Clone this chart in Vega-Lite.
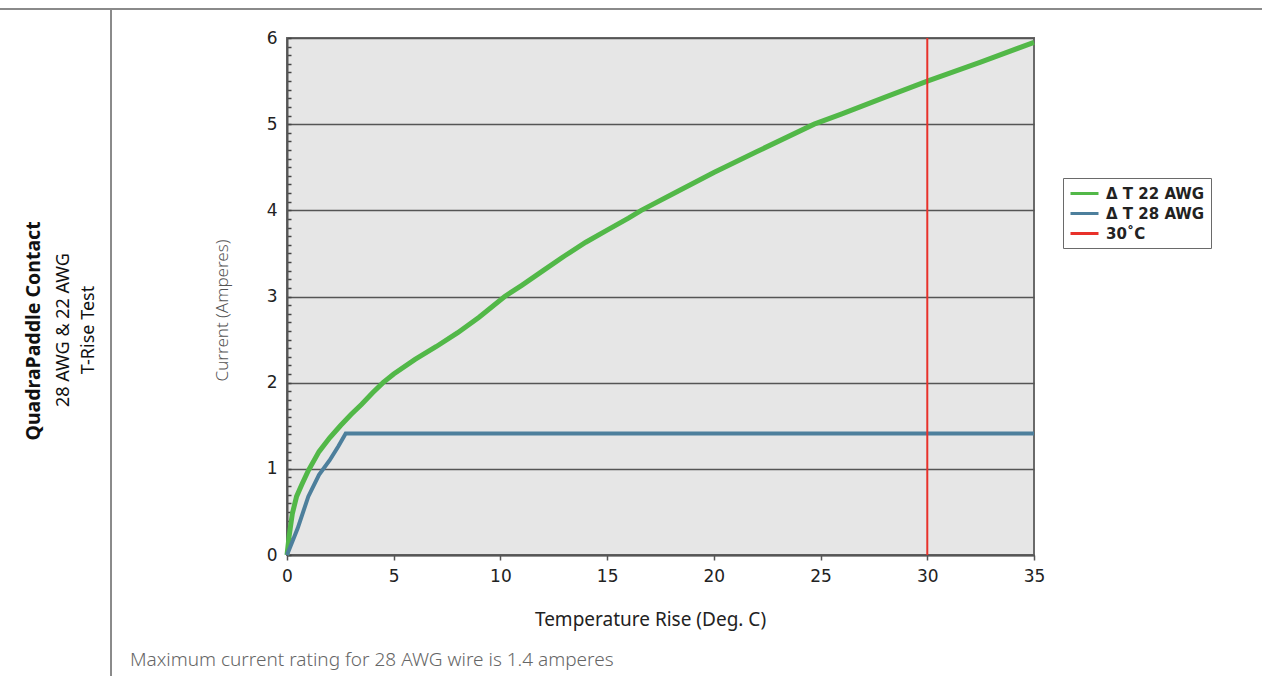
{
  "$schema": "https://vega.github.io/schema/vega-lite/v6.json",
  "autosize": {"type": "none"},
  "padding": {"left": 287, "top": 38, "right": 228, "bottom": 121},
  "width": 747,
  "height": 517,
  "background": "white",
  "config": {
    "view": {"fill": "#e6e6e6", "stroke": "#6a6a6a", "strokeWidth": 2},
    "legend": {
      "orient": "none", "legendX": 776, "legendY": 140,
      "strokeColor": "#6a6a6a", "fillColor": "white", "padding": 6,
      "symbolType": "M-1,0H2.5", "symbolSize": 256, "symbolStrokeWidth": 3,
      "labelFont": "DejaVu Sans", "labelFontWeight": "bold", "labelFontSize": 15, "labelColor": "#222",
      "rowPadding": 2, "labelOffset": 18
    }
  },
  "data": {"values": [
    {"series": "Δ T 22 AWG", "temp": 0, "current": 0},
    {"series": "Δ T 22 AWG", "temp": 0.1, "current": 0.22},
    {"series": "Δ T 22 AWG", "temp": 0.25, "current": 0.48},
    {"series": "Δ T 22 AWG", "temp": 0.45, "current": 0.68},
    {"series": "Δ T 22 AWG", "temp": 0.7, "current": 0.82},
    {"series": "Δ T 22 AWG", "temp": 1.0, "current": 0.98},
    {"series": "Δ T 22 AWG", "temp": 1.5, "current": 1.2},
    {"series": "Δ T 22 AWG", "temp": 2, "current": 1.36},
    {"series": "Δ T 22 AWG", "temp": 2.5, "current": 1.5},
    {"series": "Δ T 22 AWG", "temp": 3, "current": 1.63},
    {"series": "Δ T 22 AWG", "temp": 3.5, "current": 1.75},
    {"series": "Δ T 22 AWG", "temp": 4, "current": 1.88},
    {"series": "Δ T 22 AWG", "temp": 4.5, "current": 2.0},
    {"series": "Δ T 22 AWG", "temp": 5, "current": 2.1},
    {"series": "Δ T 22 AWG", "temp": 6, "current": 2.27},
    {"series": "Δ T 22 AWG", "temp": 7, "current": 2.42},
    {"series": "Δ T 22 AWG", "temp": 8, "current": 2.58},
    {"series": "Δ T 22 AWG", "temp": 9, "current": 2.76},
    {"series": "Δ T 22 AWG", "temp": 10.2, "current": 3.0},
    {"series": "Δ T 22 AWG", "temp": 11, "current": 3.13},
    {"series": "Δ T 22 AWG", "temp": 12, "current": 3.3},
    {"series": "Δ T 22 AWG", "temp": 13, "current": 3.47},
    {"series": "Δ T 22 AWG", "temp": 14, "current": 3.63},
    {"series": "Δ T 22 AWG", "temp": 15, "current": 3.77},
    {"series": "Δ T 22 AWG", "temp": 16, "current": 3.91},
    {"series": "Δ T 22 AWG", "temp": 16.6, "current": 4.0},
    {"series": "Δ T 22 AWG", "temp": 18, "current": 4.18},
    {"series": "Δ T 22 AWG", "temp": 20, "current": 4.44},
    {"series": "Δ T 22 AWG", "temp": 22, "current": 4.68},
    {"series": "Δ T 22 AWG", "temp": 24.7, "current": 5.0},
    {"series": "Δ T 22 AWG", "temp": 26, "current": 5.12},
    {"series": "Δ T 22 AWG", "temp": 28, "current": 5.31},
    {"series": "Δ T 22 AWG", "temp": 30, "current": 5.5},
    {"series": "Δ T 22 AWG", "temp": 32.5, "current": 5.72},
    {"series": "Δ T 22 AWG", "temp": 35, "current": 5.95},
    {"series": "Δ T 28 AWG", "temp": 0, "current": 0},
    {"series": "Δ T 28 AWG", "temp": 0.5, "current": 0.31},
    {"series": "Δ T 28 AWG", "temp": 1, "current": 0.68},
    {"series": "Δ T 28 AWG", "temp": 1.5, "current": 0.93},
    {"series": "Δ T 28 AWG", "temp": 2, "current": 1.1},
    {"series": "Δ T 28 AWG", "temp": 2.4, "current": 1.26},
    {"series": "Δ T 28 AWG", "temp": 2.75, "current": 1.41},
    {"series": "Δ T 28 AWG", "temp": 35, "current": 1.41}
  ]},
  "layer": [
    {
      "mark": {"type": "rule", "color": "#8a8a8a", "strokeWidth": 1},
      "encoding": {
        "x": {"datum": -8.246, "type": "quantitative"},
        "y": {"datum": 6.3366, "type": "quantitative"},
        "y2": {"datum": -1.4043}
      }
    },
    {
      "mark": {"type": "rule", "color": "#8a8a8a", "strokeWidth": 1},
      "encoding": {
        "x": {"datum": -13.447, "type": "quantitative"},
        "x2": {"datum": 45.68},
        "y": {"datum": 6.3366, "type": "quantitative"}
      }
    },
    {
      "data": {"values": [{"label": "QuadraPaddle Contact"}]},
      "mark": {"type": "text", "angle": 270, "align": "center", "baseline": "middle", "font": "Noto Sans", "fontWeight": "bold", "fontSize": 19.5, "color": "#111"},
      "encoding": {
        "text": {"field": "label"},
        "x": {"datum": -11.854, "type": "quantitative"},
        "y": {"datum": 2.6, "type": "quantitative"}
      }
    },
    {
      "data": {"values": [{"label": "28 AWG & 22 AWG\nT-Rise Test"}]},
      "mark": {"type": "text", "angle": 270, "align": "center", "baseline": "middle", "lineBreak": "\n", "lineHeight": 25, "font": "Noto Sans", "fontSize": 18, "color": "#111"},
      "encoding": {
        "text": {"field": "label"},
        "x": {"datum": -10.45, "type": "quantitative"},
        "y": {"datum": 2.611, "type": "quantitative"}
      }
    },
    {
      "data": {"values": [{"label": "Maximum current rating for 28 AWG wire is 1.4 amperes"}]},
      "mark": {"type": "text", "align": "left", "baseline": "middle", "font": "Noto Sans", "fontWeight": 300, "fontSize": 19, "color": "#666"},
      "encoding": {
        "text": {"field": "label"},
        "x": {"datum": -7.356, "type": "quantitative"},
        "y": {"datum": -1.2186, "type": "quantitative"}
      }
    },
    {
      "transform": [{"filter": "datum.series == 'Δ T 22 AWG'"}],
      "mark": {"type": "line", "strokeWidth": 5, "clip": false},
      "encoding": {
        "x": {"field": "temp", "type": "quantitative", "scale": {"domain": [0, 35], "nice": false, "zero": false},
          "axis": {"values": [0, 5, 10, 15, 20, 25, 30, 35], "tickCount": 20, "title": "Temperature Rise (Deg. C)", "grid": false,
            "domainColor": "#555", "domainWidth": 2, "tickColor": "#555", "tickWidth": 1.5, "tickSize": 5,
            "labelFont": "DejaVu Sans", "labelFontSize": 17, "labelColor": "#222", "labelPadding": 8, "labelFlush": false,
            "titleFont": "Noto Sans", "titleFontSize": 19, "titleFontWeight": "normal", "titleColor": "#222", "titlePadding": 26, "titleX": 363}},
        "y": {"field": "current", "type": "quantitative", "scale": {"domain": [0, 6], "nice": false, "zero": false},
          "axis": {"values": [0,0.1,0.2,0.3,0.4,0.5,0.6,0.7,0.8,0.9,1,1.1,1.2,1.3,1.4,1.5,1.6,1.7,1.8,1.9,2,2.1,2.2,2.3,2.4,2.5,2.6,2.7,2.8,2.9,3,3.1,3.2,3.3,3.4,3.5,3.6,3.7,3.8,3.9,4,4.1,4.2,4.3,4.4,4.5,4.6,4.7,4.8,4.9,5,5.1,5.2,5.3,5.4,5.5,5.6,5.7,5.8,5.9,6],
            "tickCount": 200,
            "labelExpr": "abs(datum.value - round(datum.value)) < 0.001 ? format(datum.value, 'd') : ''",
            "grid": true, "gridColor": "#555", "gridWidth": 1.5,
            "gridOpacity": {"condition": {"test": "abs(datum.value - round(datum.value)) < 0.001", "value": 1}, "value": 0},
            "tickSize": -4,
            "tickColor": "#444", "tickWidth": 1.5,
            "domainColor": "#555", "domainWidth": 2,
            "labelFont": "DejaVu Sans", "labelFontSize": 17, "labelColor": "#222", "labelPadding": 14, "labelFlush": false, "labelOverlap": false,
            "title": "Current (Amperes)", "titleFont": "Noto Sans", "titleFontWeight": 300, "titleFontSize": 17, "titleColor": "#555", "titlePadding": 35, "titleY": 272}},
        "color": {"field": "series", "type": "nominal", "title": null,
          "scale": {"domain": ["Δ T 22 AWG", "Δ T 28 AWG", "30˚C"], "range": ["#52b848", "#4d7f9c", "#e8312a"]}}
      }
    },
    {
      "transform": [{"filter": "datum.series == 'Δ T 28 AWG'"}],
      "mark": {"type": "line", "strokeWidth": 4, "clip": false},
      "encoding": {
        "x": {"field": "temp", "type": "quantitative"},
        "y": {"field": "current", "type": "quantitative"},
        "color": {"field": "series", "type": "nominal"}
      }
    },
    {
      "data": {"values": [{"series": "30˚C", "temp": 30}]},
      "mark": {"type": "rule", "strokeWidth": 2},
      "encoding": {
        "x": {"field": "temp", "type": "quantitative"},
        "color": {"field": "series", "type": "nominal"}
      }
    }
  ]
}
